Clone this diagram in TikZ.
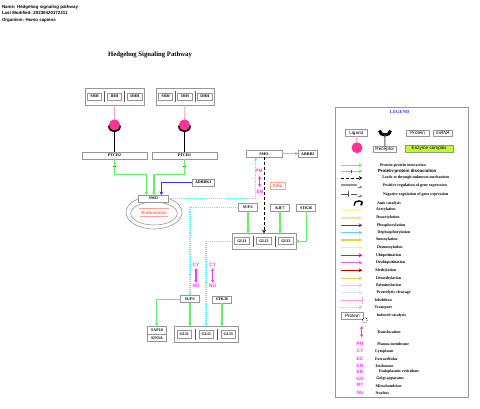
\documentclass[tikz,border=0pt]{standalone}
\usepackage{fontspec}
\setmainfont{Liberation Serif}
\setsansfont{Liberation Sans}
\usetikzlibrary{arrows.meta,positioning,fit,backgrounds,shapes.geometric}
\definecolor{ppigreen}{RGB}{100,240,100}
\definecolor{hotpink}{RGB}{255,50,150}
\definecolor{lightpink}{RGB}{255,160,210}
\definecolor{cyandot}{RGB}{90,240,240}
\definecolor{magtext}{RGB}{255,50,255}
\definecolor{boxgray}{RGB}{150,150,150}
\definecolor{endored}{RGB}{255,100,80}
\definecolor{enzyme}{RGB}{190,250,50}
\begin{document}
\begin{tikzpicture}[
    x=1pt, y=-1pt,
    every node/.style={inner sep=0pt, outer sep=0pt},
    gene/.style={draw=boxgray, fill=white, line width=.8pt, align=center, minimum height=7pt, minimum width=19pt, font=\fontsize{4}{4.5}\selectfont\bfseries},
    member/.style={gene, minimum width=14.7pt},
    cplx/.style={draw=boxgray, line width=.8pt, inner xsep=2pt, inner ysep=5pt},
    sepbar/.style={fill=gray!70!black, minimum width=1pt, minimum height=11pt},
    tickbar/.style={fill=gray!60!black, minimum width=3.5pt, minimum height=.8pt},
    legtxt/.style={anchor=west, font=\fontsize{4}{4.5}\selectfont\bfseries},
    loc/.style={text=magtext, font=\fontsize{4.8}{5}\selectfont\sffamily\bfseries},
    keybox/.style={draw=boxgray, fill=white, line width=.8pt, font=\fontsize{4.6}{5}\selectfont\sffamily, minimum height=6.5pt},
    ppi/.style={-{Stealth[length=3.5pt,width=4pt]}, ppigreen, line width=1.1pt},
    mod/.style={-{Stealth[length=3.5pt,width=4pt]}, line width=1.1pt},
    transport/.style={-{Stealth[length=3.5pt,width=4pt]}, cyandot, line width=1.1pt, densely dotted},
    unknown/.style={-{Stealth[length=3.5pt,width=4pt]}, black, line width=.7pt, densely dashed},
    transloc/.style={{Stealth[length=3pt,width=3.5pt]}-{Stealth[length=3pt,width=3.5pt]}, magtext, line width=1.1pt},
    ligline/.style={lightpink, line width=1pt},
    recline/.style={black, line width=.9pt},
    cup/.style={black, line width=3pt},
    ligand/.style={circle, fill=hotpink, minimum size=11pt},
]
\useasboundingbox (0,0) rectangle (480,409);

% Header and title
\node[anchor=west, font=\fontsize{4.4}{5}\selectfont\sffamily\bfseries] (hname) at (2,7) {Name: Hedgehog signaling pathway};
\node[anchor=west, font=\fontsize{4.4}{5}\selectfont\sffamily\bfseries] (hdate) at (2,13) {Last Modified: 20230420172311};
\node[anchor=west, font=\fontsize{4.4}{5}\selectfont\sffamily\bfseries] (horg) at (2,20) {Organism: Homo sapiens};
\node[font=\fontsize{6.7}{7}\selectfont\bfseries] (title) at (150,55) {Hedgehog Signaling Pathway};

% Ligand complexes
\node[member] (shhA) at (94.5,96.5) {SHH};
\node[member] (ihhA) at (114.5,96.5) {IHH};
\node[member] (dhhA) at (135,96.5) {DHH};
\node[sepbar] (sepA) at (104.5,96.5) {};
\node[sepbar] (sepB) at (124.7,96.5) {};
\node[member] (shhB) at (165.5,96.5) {SHH};
\node[member] (ihhB) at (185,96.5) {IHH};
\node[member] (dhhB) at (205,96.5) {DHH};
\node[sepbar] (sepC) at (175.5,96.5) {};
\node[sepbar] (sepD) at (195,96.5) {};

% Receptors
\node[ligand] (ligA) at (114.5,125) {};
\node[ligand] (ligB) at (184.5,125) {};
\node[gene, minimum width=65pt] (ptchB) at (114.5,155.5) {PTCH2};
\node[gene, minimum width=65pt] (ptchA) at (184.5,155.5) {PTCH1};
\node[tickbar] (tickA) at (114.5,166) {};
\node[tickbar] (tickB) at (184.5,166) {};

% Endosome and SMO
\node[draw=boxgray, ellipse, minimum width=56pt, minimum height=33pt, line width=.6pt] (endoA) at (154,212.5) {};
\node[draw=boxgray, ellipse, minimum width=46.5pt, minimum height=23pt, line width=.6pt] (endoB) at (154,213.5) {};
\node[draw=endored!60, double=white, double distance=.4pt, line width=.4pt, minimum width=29pt, minimum height=8pt, text=endored, font=\fontsize{4.4}{5}\selectfont\sffamily\bfseries] (endo) at (154,213) {Endosomes};
\node[gene, minimum width=30.4pt] (smd) at (153.5,198.5) {SMO};
\node[gene, minimum width=22.7pt] (adrbk) at (203.3,182.5) {ADRBK1};
\node[gene, minimum width=36pt] (smo) at (264,153.7) {SMO};
\node[gene] (arrb) at (307.8,153.7) {ARRB2};
\node[draw=endored!60, line width=.5pt, minimum width=15pt, minimum height=7pt, text=endored!90!black, font=\fontsize{4.4}{5}\selectfont\sffamily\bfseries] (cilia) at (277.5,186) {Cilia};
\node[loc] (pmA) at (259,171) {PM};
\node[loc] (enA) at (260,192) {EN};

% Cilium: SUFU, KIF7, STK36, GLI
\node[gene, minimum height=7.6pt] (sufuA) at (248,207.5) {SUFU};
\node[gene, minimum width=18.3pt] (kif) at (280,207.7) {KIF7};
\node[gene] (stkA) at (306.2,207.7) {STK36};
\node[member] (gliA) at (242,241.3) {GLI1};
\node[member] (gliB) at (264,241.3) {GLI2};
\node[member] (gliC) at (286,241.3) {GLI3};
\node[sepbar] (sepE) at (253.3,241.3) {};
\node[sepbar] (sepF) at (275,241.3) {};

% Nucleus
\node[loc] (cyA) at (196,265) {CY};
\node[loc] (nuA) at (196,286) {NU};
\node[loc] (cyB) at (212.7,265) {CY};
\node[loc] (nuB) at (212.7,286) {NU};
\node[gene] (sufuB) at (190,299.2) {SUFU};
\node[gene] (stkB) at (222,299.5) {STK36};
\node[gene, minimum height=7.6pt] (sap) at (157,330.1) {SAP18};
\node[gene, minimum height=7.6pt, below=0pt of sap] (sin) {SIN3A};
\node[member] (gliD) at (184.3,334.4) {GLI1};
\node[member] (gliE) at (206.3,334.4) {GLI2};
\node[member] (gliF) at (228.3,334.4) {GLI3};
\node[sepbar] (sepG) at (195.3,334.4) {};
\node[sepbar] (sepH) at (217,334.4) {};

\begin{scope}[on background layer]
    \node[cplx, fit=(shhA)(dhhA)] (hhA) {};
    \node[cplx, fit=(shhB)(dhhB)] (hhB) {};
    \node[cplx, fit=(gliA)(gliC), inner ysep=4.5pt, inner xsep=2.6pt] (gliTop) {};
    \node[cplx, fit=(gliD)(gliF), inner ysep=4.5pt, inner xsep=2.6pt] (gliLow) {};
\end{scope}

% Ligand and receptor lines
\draw[ligline] (hhA) -- (ligA);
\draw[ligline] (hhB) -- (ligB);
\draw[recline] (ligA) -- (ptchB);
\draw[recline] (ligB) -- (ptchA);
\coordinate (cupAl) at (109.5,125.5);
\coordinate (cupAr) at (119.5,125.5);
\coordinate (cupBl) at (179.5,125.5);
\coordinate (cupBr) at (189.5,125.5);
\draw[cup] (cupAl) .. controls +(0,7) and +(0,7) .. (cupAr);
\draw[cup] (cupBl) .. controls +(0,7) and +(0,7) .. (cupBr);
\node[ligand] at (ligA) {};
\node[ligand] at (ligB) {};

% Main arrows
\coordinate (smdInA) at (146.3,195);
\coordinate (smdInB) at (154,195);
\coordinate (smdInC) at (161.3,195);
\coordinate (smoIn) at (255.7,157.4);
\coordinate (smoOut) at (264,157.4);
\coordinate (gliIn) at (264,233.3);
\coordinate (sufuIn) at (190,295.7);
\coordinate (gliLowIn) at (206,326.4);
\coordinate (sapIn) at (156.7,326.3);
\coordinate (pmOut) at (259.7,176);
\coordinate (enOut) at (259.7,187);
\draw[ppi] (ptchB.south) -- ++(0,15.3) -| (smdInA);
\draw[ppi] (ptchA.south) -- ++(0,15.3) -| (smdInB);
\draw[mod, blue!80] (adrbk.west) -| (smdInC);
\draw[transport] (smd.east) -- ++(87,0) -- (smoIn);
\draw[ppi] (smo) -- (arrb);
\draw[unknown] (smoOut) -- (gliIn);
\draw[transloc] (pmOut) -- (enOut);
\draw[ppi] (sufuA.south) -- (sufuA.south |- gliTop.north);
\draw[ppi] (kif.south) -- (kif.south |- gliTop.north);
\draw[ppi] (stkA.south) |- (gliTop.east);
\draw[transport] (sufuA.west) -| (sufuIn);
\draw[transport] (gliTop.west) -| (gliLowIn);
\draw[transloc, shorten <=1.5pt, shorten >=1.5pt] (cyA) -- (nuA);
\draw[transloc, shorten <=1.5pt, shorten >=1.5pt] (cyB) -- (nuB);
\draw[ppi] (sufuB.south) -- (sufuB.south |- gliLow.north);
\draw[ppi] (stkB.south) -- (stkB.south |- gliLow.north);
\draw[ppi] (sufuB.west) -| (sapIn);

% Legend
\node[draw=boxgray, line width=.8pt, minimum width=132.6pt, minimum height=290pt] (legend) at (402,252.3) {};
\node[text=blue!80, font=\fontsize{4.6}{5}\selectfont\bfseries] (legtitle) at (399.7,112) {LEGEND};
\node[keybox, minimum width=22.7pt] (kligand) at (356.3,133) {Ligand};
\node[ligand] (kcircle) at (357,147.7) {};
\draw[ligline] (kligand) -- (kcircle);
\node[keybox, minimum width=22.3pt] (krecept) at (384.8,149.5) {Receptor};
\coordinate (kcupl) at (379.5,130.5);
\coordinate (kcupr) at (390.5,130.5);
\coordinate (kcupm) at (385,135);
\draw[cup] (kcupl) .. controls +(0,6) and +(0,6) .. (kcupr);
\draw[gray!70!black, line width=1pt] (kcupm) -- (krecept);
\node[keybox, minimum width=22.7pt] (kprot) at (417.7,133.3) {Protein};
\node[keybox, minimum width=19.4pt, font=\fontsize{4.6}{5}\selectfont\sffamily\itshape] (kmrna) at (443,133.3) {mRNA};
\node[keybox, fill=enzyme, minimum width=47.7pt, minimum height=7pt] (kenz) at (429.2,148.8) {Enzyme complex};

% Legend rows
\node[legtxt] (tppi) at (380,165.3) {Protein-protein interaction};
\coordinate (sppi) at (341,165.3);
\coordinate (eppi) at (362.3,165.3);
\draw[ppi] (sppi) -- (eppi);
\node[legtxt, font=\fontsize{4.4}{5}\selectfont\sffamily\bfseries] (tdis) at (378,171.3) {Protein-protein dissociation};
\coordinate (sdis) at (341,171.3);
\coordinate (edis) at (362.3,171.3);
\draw[ppi] (sdis) -- (edis);
\node[fill=black!70, minimum width=.6pt, minimum height=3.5pt] (bdis) at (351,171.3) {};
\node[legtxt] (tlead) at (382.3,178) {Leads to through unknown mechanism};
\coordinate (slead) at (341,178);
\coordinate (elead) at (362.3,178);
\draw[unknown] (slead) -- (elead);
\node[legtxt] (tpos) at (383,185.3) {Positive regulation of gene expression};
\coordinate (spos) at (341,185);
\coordinate (epos) at (357,185);
\coordinate (apos) at (358,187);
\coordinate (bpos) at (362.5,187);
\draw[boxgray, line width=1.2pt] (spos) -- (epos);
\draw[-{Stealth[open,length=3pt,width=3pt]}, gray, line width=.4pt] (apos) -- (bpos);
\node[legtxt] (tneg) at (383,194.7) {Negative regulation of gene expression};
\coordinate (sneg) at (341,194.3);
\coordinate (mneg) at (348,194.3);
\coordinate (nneg) at (351,194.3);
\coordinate (eneg) at (357,194.3);
\coordinate (aneg) at (358,196);
\coordinate (bneg) at (362.5,196);
\draw[gray!70!black, line width=.5pt, -{Bar[width=6pt]}] (sneg) -- (mneg);
\draw[gray!70!black, line width=.5pt] (nneg) -- (eneg);
\draw[-{Stealth[open,length=3pt,width=3pt]}, gray, line width=.4pt] (aneg) -- (bneg);
\node[legtxt] (tauto) at (377,203.3) {Auto catalysis};
\coordinate (sauto) at (354,205.5);
\coordinate (eauto) at (360.5,205.5);
\draw[black, line width=1.4pt, -{Stealth[length=2pt,width=3pt]}] (sauto) .. controls +(-1,-6) and +(5,-6) .. (eauto);
\node[legtxt] (tacet) at (376,210) {Acetylation};
\coordinate (sacet) at (341,210);
\coordinate (eacet) at (362.3,210);
\draw[mod, yellow!35] (sacet) -- (eacet);
\node[legtxt] (tdeac) at (376.3,218) {Deacetylation};
\coordinate (sdeac) at (341,218);
\coordinate (edeac) at (362.3,218);
\draw[mod, orange!30] (sdeac) -- (edeac);
\node[legtxt] (tphos) at (377,225.3) {Phosphorylation};
\coordinate (sphos) at (341,225.3);
\coordinate (ephos) at (362.3,225.3);
\draw[mod, blue!80] (sphos) -- (ephos);
\node[legtxt] (tdeph) at (377.7,232.7) {Dephosphorylation};
\coordinate (sdeph) at (341,232.7);
\coordinate (edeph) at (362.3,232.7);
\draw[mod, cyan!60] (sdeph) -- (edeph);
\node[legtxt] (tsumo) at (376,240) {Sumoylation};
\coordinate (ssumo) at (341,240);
\coordinate (esumo) at (362.3,240);
\draw[mod, yellow!70!gray] (ssumo) -- (esumo);
\node[legtxt] (tdesu) at (377,247.7) {Desumoylation};
\coordinate (sdesu) at (341,247.7);
\coordinate (edesu) at (362.3,247.7);
\draw[mod, yellow!70] (sdesu) -- (edesu);
\node[legtxt] (tubiq) at (376,255.3) {Ubiquitination};
\coordinate (subiq) at (341,255.3);
\coordinate (eubiq) at (362.3,255.3);
\draw[mod, magenta] (subiq) -- (eubiq);
\node[legtxt] (tdeub) at (376,262.7) {Deubiquitination};
\coordinate (sdeub) at (341,262.7);
\coordinate (edeub) at (362.3,262.7);
\draw[mod, violet!50!magenta!60] (sdeub) -- (edeub);
\node[legtxt] (tmeth) at (375.3,270.3) {Methylation};
\coordinate (smeth) at (341,270.3);
\coordinate (emeth) at (362.3,270.3);
\draw[mod, red!75!black] (smeth) -- (emeth);
\node[legtxt] (tdeme) at (376,278.3) {Demethylation};
\coordinate (sdeme) at (341,278.3);
\coordinate (edeme) at (362.3,278.3);
\draw[mod, yellow!50!brown!80] (sdeme) -- (edeme);
\node[legtxt] (tpalm) at (376,285.3) {Palmitoylation};
\coordinate (spalm) at (341,285.3);
\coordinate (epalm) at (362.3,285.3);
\draw[mod, red!25] (spalm) -- (epalm);
\node[legtxt] (tprot) at (376.7,292.7) {Proteolytic cleavage};
\coordinate (sprot) at (341,292.7);
\coordinate (eprot) at (362.3,292.7);
\draw[mod, gray!25] (sprot) -- (eprot);
\node[legtxt] (tinhi) at (374.7,300) {Inhibition};
\coordinate (sinhi) at (341,300.3);
\coordinate (einhi) at (363.3,300.3);
\draw[lightpink, line width=1.4pt, -{Bar[width=7.5pt]}] (sinhi) -- (einhi);
\node[legtxt] (ttran) at (374.7,307.3) {Transport};
\coordinate (stran) at (341,307.3);
\coordinate (etran) at (362.3,307.3);
\draw[transport] (stran) -- (etran);
\node[legtxt] (tindu) at (376.7,315.7) {Induced catalysis};
\node[keybox, minimum width=22pt, minimum height=7pt, fill=none] (kprotb) at (352.3,315.8) {Protein};
\node[draw=black, fill=white, circle, densely dotted, line width=.6pt, minimum size=5pt] (kcat) at (364.7,320.3) {};
\node[legtxt] (ttrlo) at (377,331.7) {Translocation};
\coordinate (strlo) at (361.7,326);
\coordinate (etrlo) at (361.7,337.3);
\draw[transloc] (strlo) -- (etrlo);

% Compartments
\node[loc] (kpm) at (360,344.3) {PM};
\node[legtxt] (tpm) at (377.3,344.3) {Plasma membrane};
\node[loc] (kcy) at (360,351.3) {CY};
\node[legtxt] (tcy) at (375,351.3) {Cytoplasm};
\node[loc] (kec) at (360,358.7) {EC};
\node[legtxt] (tec) at (375,358.7) {Extracellular};
\node[loc] (ken) at (360,366) {EN};
\node[legtxt] (ten) at (375.7,366) {Endosome};
\node[loc] (ker) at (360,372) {ER};
\node[legtxt] (ter) at (379,372) {Endoplasmic reticulum};
\node[loc] (kgo) at (360,379) {GO};
\node[legtxt] (tgo) at (376.3,379) {Golgi apparatus};
\node[loc] (kmt) at (360,385) {MT};
\node[legtxt] (tmt) at (375.7,386) {Mitochondrion};
\node[loc] (knu) at (360,393) {NU};
\node[legtxt] (tnu) at (375.7,393.3) {Nucleus};
\end{tikzpicture}
\end{document}
